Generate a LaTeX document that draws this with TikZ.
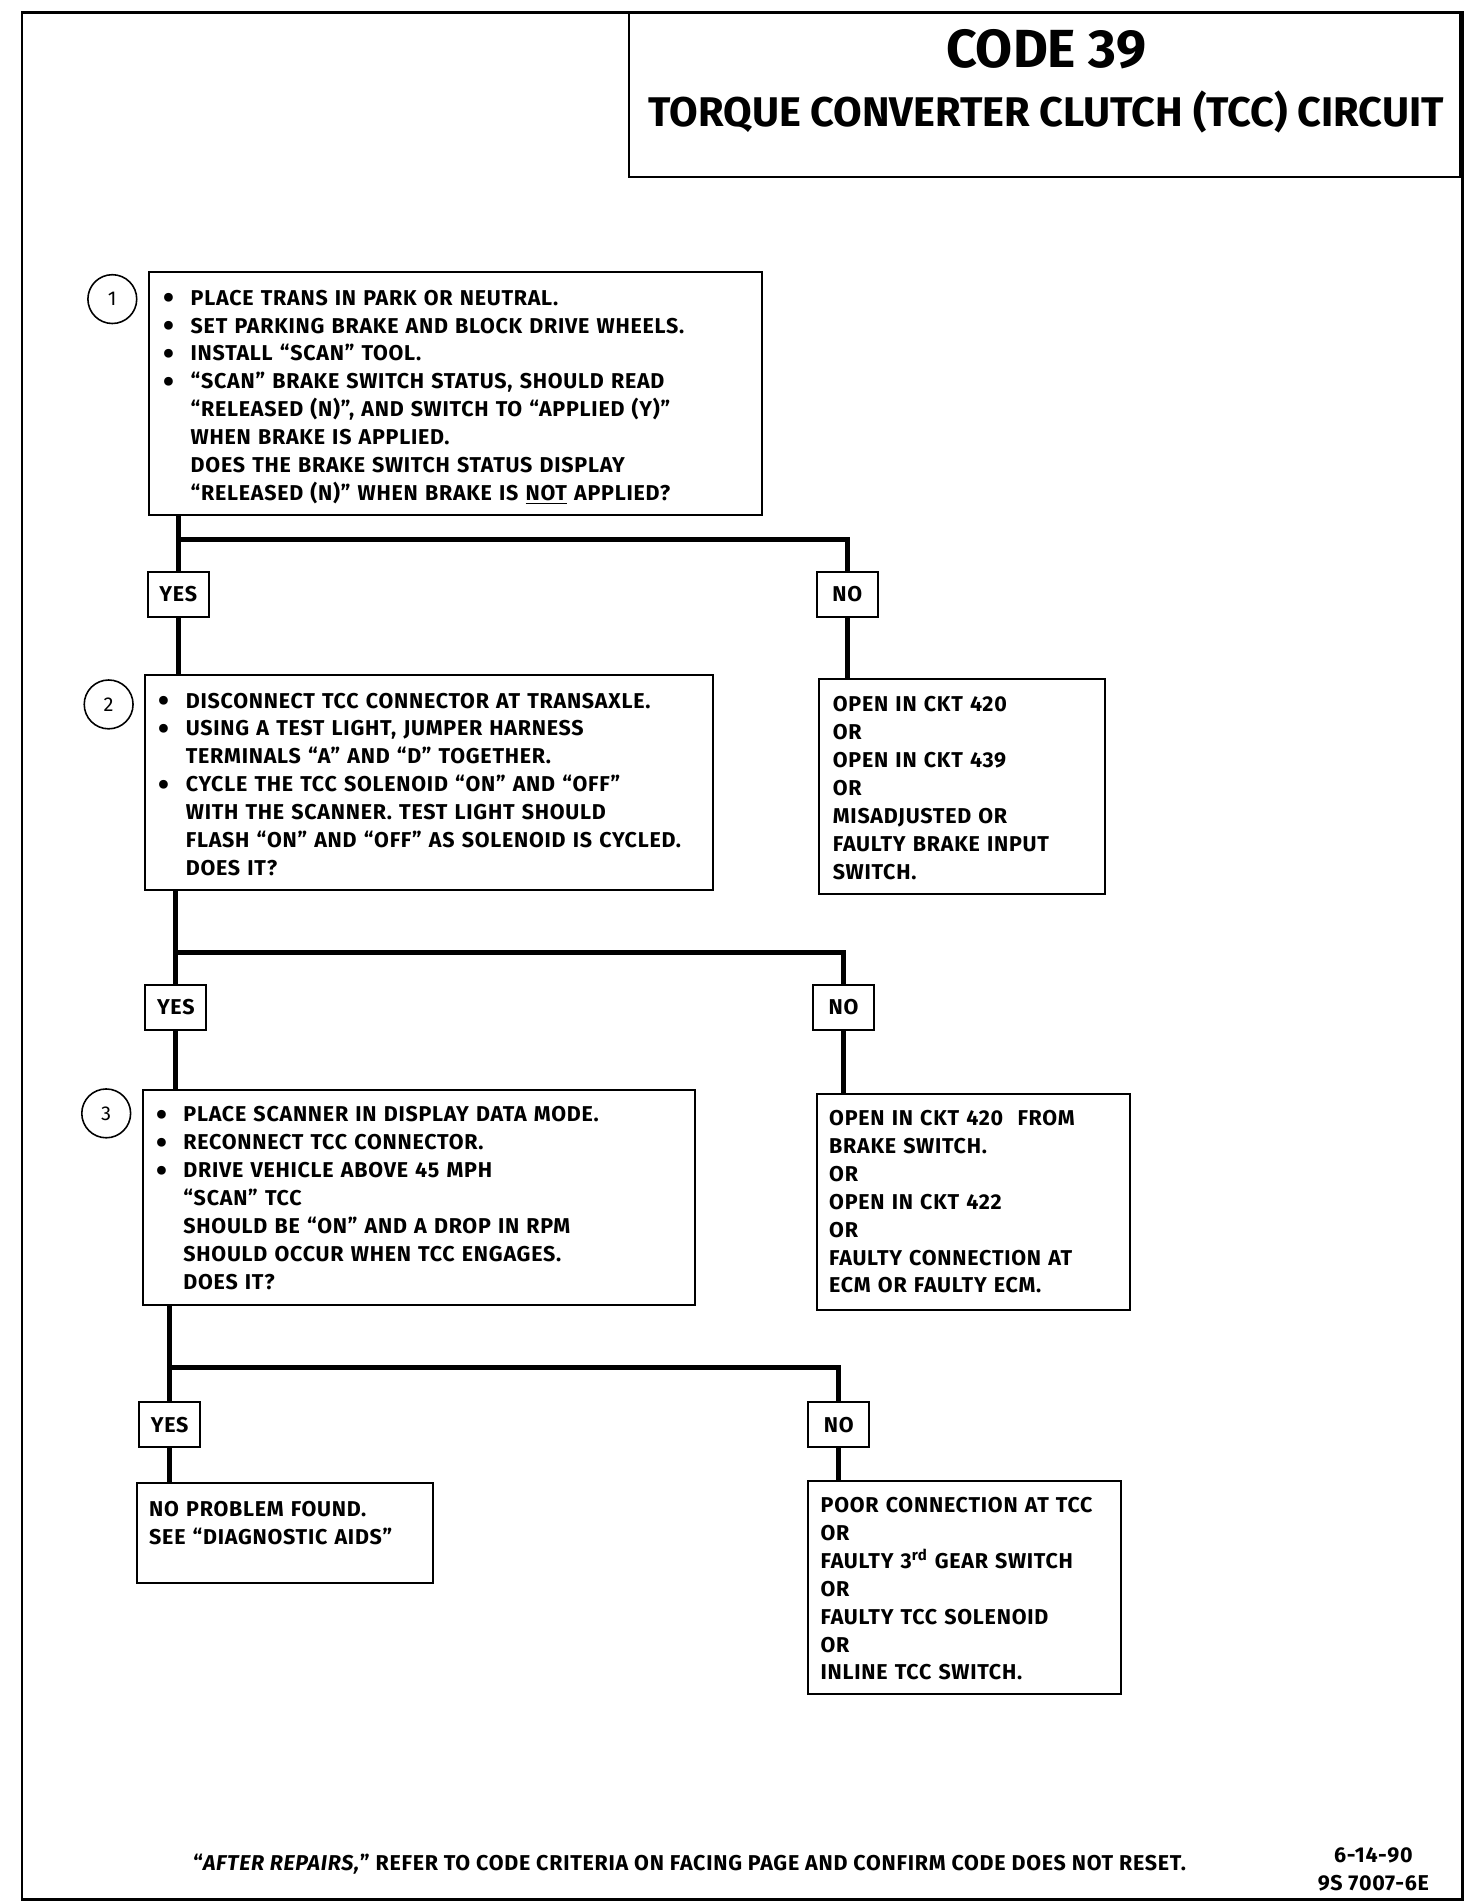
\documentclass[tikz,border=0pt]{standalone}
\usepackage{fontspec}
\setmainfont{Fira Sans}
\newfontfamily\bodyfont{Fira Sans}[Ligatures=TeX, LetterSpace=3.5]
\usetikzlibrary{positioning}
\usetikzlibrary{fit}
\newcommand{\bodysize}{\bodyfont\fontsize{15pt}{19.5pt}\selectfont\bfseries}
\newcommand{\bul}{\makebox[0.66cm][l]{\raisebox{-0.3ex}{\fontsize{22pt}{0pt}\selectfont\textbullet}}}
\newcommand{\ind}{\hspace*{0.66cm}}
\tikzset{box/.style = {draw, line width = 1.4pt, inner sep = 0},
  wire/.style = {line width = 3.6pt},
  answer/.style = {draw, line width = 1.4pt, minimum width = 1.5cm, minimum height = 1.1cm, inner sep = 0, font = \bodysize},
  stepnum/.style = {draw, circle, line width = 1.1pt, minimum size = 1.2cm, inner sep = 0, font = \fontsize{14pt}{16pt}\selectfont},
  boxtext/.style = {anchor = base west, align = left, text width = 16cm, inner sep = 0, font = \bodysize}}

\begin{document}
\begin{tikzpicture}[x=0.03cm, y=-0.03cm]
  \useasboundingbox (0, 0) rectangle (1206, 1558);
  \node [box, line width = 2pt, fit = {(18, 10) (1198, 1556)}] (page) {};

  % title
  \node [box, fit = {(515, 11) (1196, 145)}] (title) {};
  \node [font = \fontsize{37.5pt}{40pt}\selectfont\bfseries] (code) at (857, 40) {CODE 39};
  \node [font = \fontsize{29pt}{32pt}\selectfont\bfseries] (name) at (857, 92) {TORQUE CONVERTER CLUTCH (TCC) CIRCUIT};

  % step 1
  \node [stepnum] (n1) at (92, 245) {1};
  \node [box, fit = {(122, 223) (624, 422)}] (s1) {};
  \node [boxtext] (s1t) at (134, 250) {\bul PLACE TRANS IN PARK OR NEUTRAL.\\
    \bul SET PARKING BRAKE AND BLOCK DRIVE WHEELS.\\
    \bul INSTALL ``SCAN'' TOOL.\\
    \bul ``SCAN'' BRAKE SWITCH STATUS, SHOULD READ\\
    \ind ``RELEASED (N)'',\ AND SWITCH TO ``APPLIED (Y)''\\
    \ind WHEN BRAKE IS APPLIED.\\
    \ind DOES THE BRAKE SWITCH STATUS DISPLAY\\
    \ind ``RELEASED (N)'' WHEN BRAKE IS \underline{NOT} APPLIED?};

  \coordinate (br1) at (0, 442);
  \node [answer] (yes1) at (146, 487) {YES};
  \node [answer] (no1) at (694, 487) {NO};

  % step 2
  \node [stepnum] (n2) at (89, 577) {2};
  \node [box, fit = {(119, 553) (584, 729)}] (s2) {};
  \node [boxtext] (s2t) at (130, 580) {\bul DISCONNECT TCC CONNECTOR AT TRANSAXLE.\\
    \bul USING A TEST LIGHT, JUMPER HARNESS\\
    \ind TERMINALS ``A'' AND ``D'' TOGETHER.\\
    \bul CYCLE THE TCC SOLENOID ``ON'' AND ``OFF''\\
    \ind WITH THE SCANNER. TEST LIGHT SHOULD\\
    \ind FLASH ``ON'' AND ``OFF'' AS SOLENOID IS CYCLED.\\
    \ind DOES IT?};
  \node [box, fit = {(671, 556) (905, 732)}] (r1) {};
  \node [boxtext] (r1t) at (682, 583) {OPEN IN CKT 420\\ OR\\ OPEN IN CKT 439\\ OR\\
    MISADJUSTED OR\\ FAULTY BRAKE INPUT\\ SWITCH.};

  \coordinate (br2) at (0, 780);
  \node [answer] (yes2) at (144, 825) {YES};
  \node [answer] (no2) at (691, 825) {NO};

  % step 3
  \node [stepnum] (n3) at (87, 912) {3};
  \node [box, fit = {(117, 893) (569, 1069)}] (s3) {};
  \node [boxtext] (s3t) at (128, 919) {\bul PLACE SCANNER\ IN DISPLAY DATA MODE.\\
    \bul RECONNECT TCC CONNECTOR.\\
    \bul DRIVE VEHICLE ABOVE 45 MPH\\
    \ind ``SCAN'' TCC\\
    \ind SHOULD BE ``ON'' AND A DROP IN RPM\\
    \ind SHOULD OCCUR WHEN TCC ENGAGES.\\
    \ind DOES IT?};
  \node [box, fit = {(669, 896) (926, 1073)}] (r2) {};
  \node [boxtext] (r2t) at (679, 922) {OPEN IN CKT 420\ \ FROM\\ BRAKE SWITCH.\\ OR\\
    OPEN IN CKT 422\\ OR\\ FAULTY CONNECTION AT\\ ECM OR FAULTY ECM.};

  \coordinate (br3) at (0, 1120);
  \node [answer] (yes3) at (139, 1167) {YES};
  \node [answer] (no3) at (687, 1167) {NO};

  \node [box, fit = {(112, 1215) (355, 1297)}] (r3) {};
  \node [boxtext] (r3t) at (122, 1242) {NO PROBLEM FOUND.\\ SEE ``DIAGNOSTIC AIDS''};
  \node [box, fit = {(662, 1213) (918, 1388)}] (r4) {};
  \node [boxtext] (r4t) at (672, 1239) {POOR CONNECTION AT TCC\\ OR\\
    FAULTY 3\textsuperscript{rd} GEAR SWITCH\\ OR\\ FAULTY TCC SOLENOID\\ OR\\ INLINE TCC SWITCH.};

  % connectors
  \draw [wire] (yes1.north |- s1.south) -- (yes1.north);
  \draw [wire] (yes1.north |- br1) -- (no1.north |- br1) -- (no1.north);
  \draw [wire] (yes1.south) -- (yes1.south |- s2.north);
  \draw [wire] (no1.south) -- (no1.south |- r1.north);
  \draw [wire] (yes2.north |- s2.south) -- (yes2.north);
  \draw [wire] (yes2.north |- br2) -- (no2.north |- br2) -- (no2.north);
  \draw [wire] (yes2.south) -- (yes2.south |- s3.north);
  \draw [wire] (no2.south) -- (no2.south |- r2.north);
  \draw [wire] (yes3.north |- s3.south) -- (yes3.north);
  \draw [wire] (yes3.north |- br3) -- (no3.north |- br3) -- (no3.north);
  \draw [wire] (yes3.south) -- (yes3.south |- r3.north);
  \draw [wire] (no3.south) -- (no3.south |- r4.north);

  % footer
  \node [font = \bodysize] (note) at (565, 1527) {``\textit{AFTER REPAIRS,}'' REFER TO CODE CRITERIA ON FACING PAGE AND CONFIRM CODE DOES NOT RESET.};
  \node [font = \bodysize, align = center] (ref) at (1125, 1531) {6-14-90\\ 9S 7007-6E};
\end{tikzpicture}
\end{document}
